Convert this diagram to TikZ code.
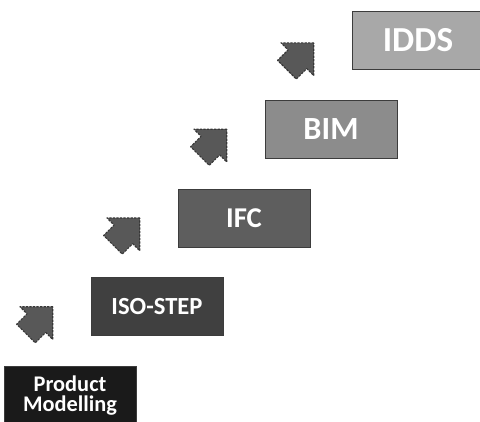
\documentclass[tikz,border=0pt]{standalone}
\usepackage{fontspec}
\setmainfont{Carlito}
\usetikzlibrary{calc}
\definecolor{stagezero}{RGB}{26,26,26}
\definecolor{stageone}{RGB}{64,64,64}
\definecolor{stagetwo}{RGB}{94,94,94}
\definecolor{stagethree}{RGB}{140,140,140}
\definecolor{stagefour}{RGB}{168,168,168}
\definecolor{boxedge}{RGB}{60,60,60}
\definecolor{arrowfill}{RGB}{88,88,88}
\definecolor{arrowedge}{RGB}{55,55,55}
\tikzset{
  stagebox/.style={
    draw=boxedge,
    line width=0.6pt,
    minimum width=3.3cm,
    minimum height=1.45cm,
    inner sep=0pt,
    align=center,
    text=white
  },
  stagearrow/.style={
    fill=arrowfill,
    draw=arrowedge,
    line width=0.8pt,
    dash pattern=on 1.6pt off 0.9pt,
    line join=round
  }
}

\begin{document}
\begin{tikzpicture}[x=1cm,y=1cm]

  \useasboundingbox (0,0) rectangle (12,10.525);
  \clip (0,0) rectangle (12,10.525);

  % Stages of the modelling evolution, one step up and right each time.
  \node[stagebox,fill=stagezero,
        font=\bfseries\fontsize{15.9}{14.4}\selectfont]
    (pm) at (1.75,0.6375) {Product\\Modelling};
  \node[stagebox,fill=stageone,font=\bfseries\fontsize{17.5}{20}\selectfont]
    (iso) at ($(pm)+(2.175,2.21875)$) {ISO-STEP};
  \node[stagebox,fill=stagetwo,font=\bfseries\fontsize{20.4}{24}\selectfont]
    (ifc) at ($(iso)+(2.175,2.21875)$) {IFC};
  \node[stagebox,fill=stagethree,font=\bfseries\fontsize{23}{27}\selectfont]
    (bim) at ($(ifc)+(2.175,2.21875)$) {BIM};
  \node[stagebox,fill=stagefour,font=\bfseries\fontsize{25}{30}\selectfont]
    (idds) at ($(bim)+(2.175,2.21875)$) {IDDS};

  % Block arrows pointing up to the next stage.
  \begin{scope}[shift={($(pm)+(-0.43,2.22)$)},rotate=45]
    \path[stagearrow] (0,0) -- (-0.58,0.58) -- (-0.58,0.33) -- (-0.95,0.33)
      -- (-0.95,-0.33) -- (-0.58,-0.33) -- (-0.58,-0.58) -- cycle;
  \end{scope}
  \begin{scope}[shift={($(iso)+(-0.43,2.22)$)},rotate=45]
    \path[stagearrow] (0,0) -- (-0.58,0.58) -- (-0.58,0.33) -- (-0.95,0.33)
      -- (-0.95,-0.33) -- (-0.58,-0.33) -- (-0.58,-0.58) -- cycle;
  \end{scope}
  \begin{scope}[shift={($(ifc)+(-0.43,2.22)$)},rotate=45]
    \path[stagearrow] (0,0) -- (-0.58,0.58) -- (-0.58,0.33) -- (-0.95,0.33)
      -- (-0.95,-0.33) -- (-0.58,-0.33) -- (-0.58,-0.58) -- cycle;
  \end{scope}
  \begin{scope}[shift={($(bim)+(-0.43,2.16)$)},rotate=45]
    \path[stagearrow] (0,0) -- (-0.58,0.58) -- (-0.58,0.33) -- (-0.95,0.33)
      -- (-0.95,-0.33) -- (-0.58,-0.33) -- (-0.58,-0.58) -- cycle;
  \end{scope}

\end{tikzpicture}
\end{document}
